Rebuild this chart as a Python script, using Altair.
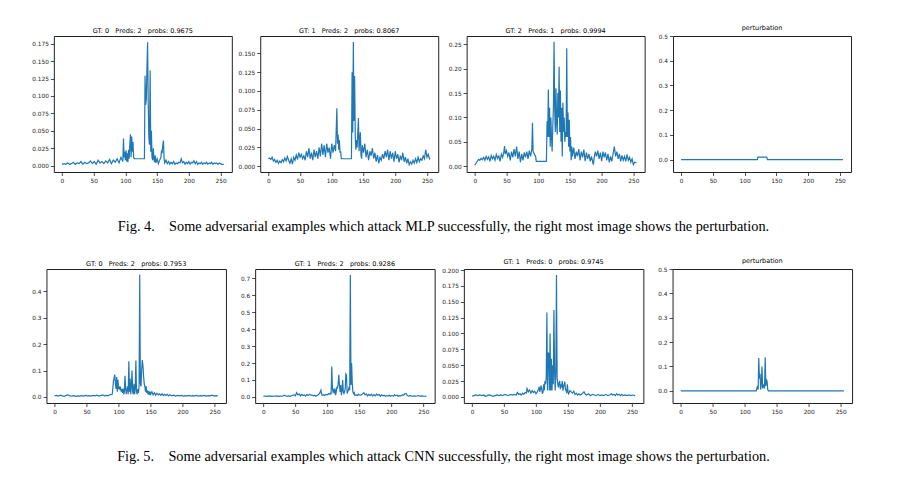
import altair as alt
import pandas as pd

# ---------------- data (x index, value) ----------------
mlp_gt0 = [(0,0.002),(3,0.003),(6,0.002),(9,0.004),(12,0.002),(15,0.003),(18,0.005),(21,0.002),(24,0.004),(27,0.003),
 (30,0.006),(33,0.002),(36,0.005),(39,0.003),(42,0.004),(45,0.007),(48,0.003),(51,0.006),(54,0.002),(57,0.008),
 (60,0.004),(63,0.006),(66,0.003),(69,0.007),(72,0.004),(75,0.009),(78,0.003),(81,0.008),(84,0.005),(87,0.01),
 (90,0.004),(93,0.012),(96,0.006),(97,0.039),(98,0.012),(99,0.02),(100,0.008),(101,0.022),(102,0.006),(103,0.018),
 (104,0.005),(105,0.023),(106,0.01),(107,0.03),(108,0.045),(109,0.012),(110,0.042),(111,0.02),(112,0.034),(113,0.012),
 (114,0.01),(130,0.01),(131,0.129),(132,0.087),(133,0.095),(134,0.14),(135,0.177),(136,0.09),(137,0.04),(138,0.03),
 (139,0.137),(140,0.02),(141,0.05),(142,0.012),(143,0.008),(144,0.025),(145,0.01),(146,0.005),(147,0.015),(148,0.004),
 (150,0.01),(152,0.003),(154,0.008),(156,0.012),(157,0.022),(158,0.018),(159,0.03),(160,0.036),(161,0.01),(162,0.004),
 (164,0.008),(166,0.003),(168,0.006),(170,0.002),(172,0.005),(174,0.003),(176,0.006),(178,0.002),(180,0.004),(182,0.003),
 (184,0.005),(186,0.004),(188,0.01),(190,0.004),(192,0.006),(194,0.002),(196,0.005),(198,0.003),(200,0.006),(202,0.002),
 (204,0.005),(206,0.004),(208,0.007),(210,0.003),(212,0.006),(214,0.002),(216,0.004),(218,0.003),(220,0.005),(222,0.002),
 (224,0.004),(226,0.003),(228,0.005),(230,0.002),(232,0.004),(234,0.003),(236,0.005),(238,0.002),(240,0.004),(242,0.003),
 (244,0.004),(246,0.002),(248,0.004),(250,0.003),(252,0.002),(255,0.002)]

mlp_gt1 = [(0,0.010),(2,0.011),(4,0.009),(6,0.012),(8,0.007),(10,0.009),(12,0.005),(14,0.008),(16,0.004),(18,0.007),
 (20,0.005),(22,0.009),(24,0.006),(26,0.011),(28,0.007),(30,0.013),(32,0.008),(34,0.004),(36,0.01),(38,0.003),
 (40,0.012),(42,0.008),(44,0.015),(46,0.009),(48,0.018),(50,0.012),(52,0.016),(54,0.01),(56,0.014),(58,0.008),
 (60,0.02),(62,0.012),(64,0.024),(66,0.01),(68,0.018),(70,0.008),(72,0.022),(74,0.012),(76,0.02),(78,0.01),
 (80,0.025),(82,0.013),(84,0.03),(86,0.015),(88,0.028),(90,0.012),(92,0.03),(94,0.018),(96,0.025),(98,0.01),
 (100,0.03),(102,0.018),(104,0.028),(106,0.02),(108,0.077),(109,0.03),(110,0.042),(111,0.022),(112,0.035),(113,0.018),
 (114,0.02),(115,0.01),(131,0.01),(132,0.125),(133,0.045),(134,0.165),(135,0.06),(136,0.12),(137,0.04),(138,0.022),
 (139,0.035),(140,0.025),(141,0.045),(142,0.064),(143,0.02),(144,0.035),(145,0.045),(146,0.015),(147,0.01),(148,0.028),
 (150,0.018),(152,0.03),(154,0.012),(156,0.022),(158,0.008),(160,0.02),(162,0.014),(164,0.024),(166,0.01),(168,0.018),
 (170,0.006),(172,0.015),(174,0.004),(176,0.012),(178,0.008),(180,0.016),(182,0.01),(184,0.02),(186,0.012),(188,0.022),
 (190,0.008),(192,0.02),(194,0.01),(196,0.018),(198,0.006),(200,0.02),(202,0.01),(204,0.016),(206,0.005),(208,0.014),
 (210,0.008),(212,0.018),(214,0.006),(216,0.012),(218,0.004),(220,0.01),(222,0.002),(224,0.006),(226,0.003),(228,0.008),
 (230,0.004),(232,0.01),(234,0.005),(236,0.012),(238,0.006),(240,0.01),(242,0.008),(244,0.014),(246,0.01),(248,0.022),
 (250,0.012),(252,0.016),(254,0.01),(255,0.011)]

mlp_gt2 = [(0,0.002),(2,0.006),(4,0.01),(6,0.014),(8,0.012),(10,0.016),(12,0.013),(14,0.018),(16,0.012),(18,0.02),
 (20,0.014),(22,0.019),(24,0.01),(26,0.022),(28,0.015),(30,0.02),(32,0.012),(34,0.024),(36,0.016),(38,0.021),
 (40,0.01),(42,0.025),(44,0.018),(46,0.03),(47,0.041),(48,0.025),(50,0.032),(52,0.02),(54,0.028),(56,0.012),
 (58,0.03),(60,0.018),(62,0.035),(64,0.02),(66,0.04),(68,0.015),(70,0.03),(72,0.008),(74,0.025),(76,0.012),
 (78,0.028),(80,0.018),(82,0.03),(84,0.015),(86,0.032),(88,0.02),(90,0.035),(91,0.089),(92,0.03),(94,0.025),
 (96,0.02),(97,0.01),(113,0.01),(114,0.092),(115,0.06),(116,0.157),(117,0.06),(118,0.12),(119,0.04),(120,0.1),
 (121,0.06),(122,0.03),(123,0.08),(124,0.12),(125,0.255),(126,0.12),(127,0.07),(128,0.16),(129,0.09),(130,0.065),
 (131,0.15),(132,0.1),(133,0.204),(134,0.07),(135,0.155),(136,0.05),(137,0.12),(138,0.02),(139,0.13),(140,0.07),
 (141,0.1),(142,0.05),(143,0.07),(144,0.06),(145,0.242),(146,0.06),(147,0.11),(148,0.04),(149,0.095),(150,0.03),
 (151,0.06),(152,0.012),(153,0.04),(154,0.02),(156,0.038),(158,0.015),(160,0.03),(162,0.02),(164,0.035),(166,0.012),
 (168,0.03),(170,0.018),(172,0.034),(174,0.01),(176,0.028),(178,0.015),(180,0.025),(182,0.01),(184,0.02),(186,0.008),
 (187,0.003),(188,0.015),(190,0.03),(192,0.02),(194,0.032),(196,0.015),(198,0.028),(200,0.01),(202,0.03),(204,0.018),
 (206,0.028),(208,0.012),(210,0.025),(212,0.008),(214,0.02),(216,0.01),(218,0.025),(220,0.04),(222,0.02),(224,0.03),
 (226,0.015),(228,0.025),(230,0.01),(232,0.022),(234,0.012),(236,0.02),(238,0.01),(240,0.024),(242,0.012),(244,0.018),
 (246,0.008),(248,0.015),(250,0.003),(252,0.008),(255,0.007)]

mlp_pert = [(0,0.0),(120,0.0),(121,0.01),(135,0.01),(136,0.0),(255,0.0)]

cnn_gt0 = [(0,0.004),(3,0.006),(6,0.003),(9,0.007),(12,0.004),(15,0.002),(18,0.006),(21,0.008),(24,0.004),(27,0.003),
 (30,0.005),(33,0.002),(36,0.004),(39,0.003),(42,0.005),(45,0.003),(48,0.006),(51,0.004),(54,0.005),(57,0.003),
 (60,0.006),(63,0.004),(66,0.007),(69,0.003),(72,0.005),(75,0.008),(78,0.004),(81,0.006),(84,0.005),(87,0.009),
 (90,0.01),(92,0.06),(94,0.085),(95,0.05),(96,0.03),(97,0.075),(98,0.02),(99,0.065),(100,0.03),(101,0.04),
 (102,0.03),(103,0.035),(104,0.02),(105,0.03),(106,0.015),(107,0.032),(108,0.01),(109,0.02),(110,0.08),(111,0.03),
 (112,0.01),(113,0.03),(114,0.04),(115,0.01),(116,0.135),(117,0.02),(118,0.07),(119,0.01),(120,0.04),(121,0.1),
 (122,0.02),(123,0.01),(124,0.05),(125,0.01),(126,0.03),(127,0.138),(128,0.02),(129,0.01),(130,0.03),(131,0.015),
 (132,0.04),(133,0.463),(134,0.05),(135,0.04),(136,0.1),(137,0.14),(138,0.12),(139,0.08),(140,0.05),(141,0.04),
 (142,0.02),(143,0.04),(144,0.015),(145,0.025),(146,0.01),(147,0.022),(148,0.008),(149,0.02),(150,0.01),(152,0.02),
 (154,0.008),(156,0.016),(158,0.006),(160,0.014),(162,0.008),(164,0.012),(166,0.006),(168,0.012),(170,0.005),(172,0.01),
 (174,0.006),(176,0.01),(178,0.004),(180,0.008),(183,0.004),(186,0.007),(189,0.003),(192,0.006),(195,0.004),(198,0.006),
 (201,0.003),(204,0.005),(207,0.004),(210,0.006),(213,0.003),(216,0.005),(219,0.004),(222,0.006),(225,0.003),(228,0.005),
 (231,0.004),(234,0.006),(237,0.003),(240,0.005),(243,0.004),(246,0.007),(249,0.003),(252,0.005),(255,0.004)]

cnn_gt1a = [(0,0.004),(3,0.005),(6,0.003),(9,0.006),(12,0.003),(15,0.005),(18,0.004),(21,0.006),(24,0.003),(27,0.005),
 (30,0.004),(33,0.01),(36,0.004),(39,0.006),(42,0.003),(45,0.008),(48,0.012),(50,0.006),(52,0.025),(54,0.012),
 (56,0.018),(58,0.006),(60,0.015),(62,0.008),(64,0.012),(66,0.005),(68,0.014),(70,0.008),(72,0.016),(74,0.01),
 (76,0.012),(78,0.006),(80,0.01),(82,0.004),(84,0.008),(86,0.012),(88,0.02),(90,0.04),(91,0.02),(92,0.01),
 (94,0.012),(96,0.008),(98,0.015),(100,0.012),(102,0.02),(104,0.015),(105,0.022),(106,0.02),(107,0.18),(108,0.05),
 (109,0.03),(110,0.04),(111,0.02),(112,0.05),(113,0.01),(114,0.03),(115,0.06),(116,0.05),(117,0.08),(118,0.13),
 (119,0.07),(120,0.03),(121,0.07),(122,0.01),(123,0.04),(124,0.1),(125,0.03),(126,0.02),(127,0.03),(128,0.05),
 (129,0.135),(130,0.13),(131,0.02),(132,0.03),(133,0.04),(134,0.06),(135,0.04),(136,0.72),(137,0.07),(138,0.2),
 (139,0.08),(140,0.03),(141,0.02),(142,0.025),(143,0.01),(145,0.012),(147,0.008),(149,0.015),(151,0.01),(153,0.012),
 (155,0.018),(157,0.025),(159,0.012),(161,0.018),(163,0.006),(165,0.015),(167,0.008),(169,0.016),(171,0.005),(173,0.014),
 (175,0.006),(177,0.016),(179,0.01),(181,0.014),(183,0.004),(185,0.012),(187,0.006),(189,0.01),(191,0.004),(193,0.008),
 (195,0.005),(197,0.01),(199,0.004),(201,0.008),(203,0.005),(205,0.012),(207,0.006),(209,0.01),(211,0.004),(213,0.008),
 (215,0.006),(217,0.012),(219,0.01),(221,0.018),(223,0.02),(225,0.008),(227,0.005),(230,0.007),(233,0.004),(236,0.006),
 (239,0.004),(242,0.008),(245,0.005),(248,0.006),(251,0.004),(255,0.005)]

cnn_gt1b = [(0,0.001),(3,0.002),(6,0.003),(9,0.002),(12,0.003),(15,0.002),(18,0.003),(21,0.001),(24,0.002),(27,0.003),
 (30,0.002),(33,0.001),(36,0.002),(39,0.003),(42,0.002),(45,0.003),(48,0.002),(51,0.004),(54,0.003),(57,0.002),
 (60,0.004),(63,0.003),(66,0.004),(69,0.003),(71,0.007),(73,0.004),(75,0.005),(77,0.003),(79,0.006),(81,0.004),
 (83,0.007),(85,0.006),(86,0.013),(88,0.008),(90,0.011),(92,0.006),(94,0.01),(96,0.007),(98,0.009),(100,0.005),
 (102,0.008),(104,0.012),(105,0.016),(106,0.008),(108,0.018),(109,0.012),(110,0.005),(111,0.008),(112,0.02),(113,0.01),
 (114,0.025),(115,0.02),(116,0.03),(117,0.133),(118,0.01),(119,0.07),(120,0.068),(121,0.01),(122,0.1),(123,0.01),
 (124,0.06),(125,0.01),(126,0.05),(127,0.02),(128,0.137),(129,0.043),(130,0.01),(131,0.04),(132,0.192),(133,0.03),
 (134,0.02),(135,0.015),(136,0.022),(137,0.025),(138,0.012),(139,0.02),(140,0.015),(141,0.025),(142,0.01),(143,0.015),
 (144,0.02),(145,0.024),(146,0.012),(147,0.01),(148,0.006),(149,0.02),(150,0.008),(151,0.005),(153,0.01),(155,0.008),
 (157,0.006),(159,0.009),(161,0.004),(163,0.006),(165,0.003),(167,0.005),(169,0.003),(171,0.004),(173,0.006),(175,0.008),
 (177,0.004),(179,0.003),(182,0.005),(185,0.002),(188,0.004),(191,0.003),(194,0.002),(197,0.004),(200,0.002),(203,0.003),
 (206,0.002),(209,0.004),(212,0.002),(215,0.003),(218,0.005),(220,0.003),(222,0.004),(224,0.002),(226,0.005),(228,0.003),
 (230,0.004),(232,0.002),(234,0.004),(236,0.002),(239,0.003),(242,0.002),(245,0.003),(248,0.002),(251,0.003),(255,0.002)]

cnn_pert = [(0,0.0),(118,0.0),(119,0.01),(120,0.02),(121,0.005),(122,0.135),(123,0.05),(124,0.07),(125,0.005),(126,0.03),
 (127,0.1),(128,0.01),(129,0.02),(130,0.025),(131,0.01),(132,0.138),(133,0.02),(134,0.045),(135,0.04),(136,0.005),
 (137,0.0),(255,0.0)]

titles_row1 = ["GT: 0   Preds: 2   probs: 0.9675", "GT: 1   Preds: 2   probs: 0.8067",
               "GT: 2   Preds: 1   probs: 0.9994", "perturbation"]
titles_row2 = ["GT: 0   Preds: 2   probs: 0.7953", "GT: 1   Preds: 2   probs: 0.9286",
               "GT: 1   Preds: 0   probs: 0.9745", "perturbation"]

x_ticks = [0, 50, 100, 150, 200, 250]
ticks_a = [0, 0.025, 0.05, 0.075, 0.1, 0.125, 0.15, 0.175]
ticks_b = [0, 0.025, 0.05, 0.075, 0.1, 0.125, 0.15]
ticks_c = [0, 0.05, 0.1, 0.15, 0.2, 0.25]
ticks_p = [0, 0.1, 0.2, 0.3, 0.4, 0.5]
ticks_e = [0, 0.1, 0.2, 0.3, 0.4]
ticks_f = [0, 0.1, 0.2, 0.3, 0.4, 0.5, 0.6, 0.7]
ticks_g = [0, 0.025, 0.05, 0.075, 0.1, 0.125, 0.15, 0.175, 0.2]

caption4 = "Fig. 4.\u2003Some adversarial examples which attack MLP successfully, the right most image shows the perturbation."
caption5 = "Fig. 5.\u2003Some adversarial examples which attack CNN successfully, the right most image shows the perturbation."

# ---------------- chart ----------------
BLUE = "#1f77b4"


def panel(pairs, title, ydom, yticks, fmt, w, h, ext=None):
    df = pd.DataFrame(pairs, columns=["x", "y"])
    t = alt.TitleParams(title.replace(" ", "\u00a0"), font="DejaVu Sans", fontSize=6.5,
                        fontWeight="normal", color="black", offset=2)
    yaxis_kw = dict(values=yticks, format=fmt, title=None)
    if ext is not None:
        yaxis_kw.update(minExtent=ext, maxExtent=ext)
    return alt.Chart(df, title=t).mark_line(color=BLUE, strokeWidth=1.2, clip=True).encode(
        x=alt.X("x:Q", scale=alt.Scale(domain=[-12.75, 267.75], nice=False, zero=False),
                axis=alt.Axis(values=x_ticks, format="d", title=None)),
        y=alt.Y("y:Q", scale=alt.Scale(domain=ydom, nice=False, zero=False),
                axis=alt.Axis(**yaxis_kw)),
    ).properties(width=w, height=h)


def spacer(w, h):
    # invisible trailing cell, only used to balance the two centred rows
    return alt.Chart(pd.DataFrame({"x": [0]})).mark_point(opacity=0).encode(
        x=alt.X("x:Q", axis=None), y=alt.Y("x:Q", axis=None)
    ).properties(width=w, height=h, view=alt.ViewBackground(stroke="transparent"))


W1, H1 = 178, 136
W2, H2 = 179.5, 134

row1 = alt.hconcat(
    panel(mlp_gt0, titles_row1[0], [-0.009, 0.186], ticks_a, ".3f", W1, H1, 52.5),
    panel(mlp_gt1, titles_row1[1], [-0.0076, 0.173], ticks_b, ".3f", W1, H1),
    panel(mlp_gt2, titles_row1[2], [-0.012, 0.267], ticks_c, ".2f", W1, H1),
    panel(mlp_pert, titles_row1[3], [-0.05, 0.5], ticks_p, ".1f", W1, H1),
    spacer(1, H1),
    spacing=28.4, bounds="flush",
    title=alt.TitleParams(caption4, orient="bottom", anchor="middle", font="Liberation Serif",
                          fontSize=14.3, fontWeight="normal", color="black", offset=36, dx=1.5),
)

row2 = alt.hconcat(
    panel(cnn_gt0, titles_row2[0], [-0.023, 0.485], ticks_e, ".1f", W2, H2, 45),
    panel(cnn_gt1a, titles_row2[1], [-0.036, 0.755], ticks_f, ".1f", W2, H2),
    panel(cnn_gt1b, titles_row2[2], [-0.0096, 0.2016], ticks_g, ".3f", W2, H2),
    panel(cnn_pert, titles_row2[3], [-0.05, 0.5], ticks_p, ".1f", W2, H2),
    spacer(8.8, H2),
    spacing=28.7, bounds="flush",
    title=alt.TitleParams(caption5, orient="bottom", anchor="middle", font="Liberation Serif",
                          fontSize=14.3, fontWeight="normal", color="black", offset=35, dx=-2.3),
)

chart = alt.vconcat(row1, row2, spacing=22, center=True).properties(
    padding={"left": 0, "top": 24, "right": 0, "bottom": 0},
    background="white",
).configure_view(
    stroke="#222", strokeWidth=1
).configure_axis(
    domain=False, grid=False, labelFont="DejaVu Sans", labelFontSize=5.8, labelColor="#222",
    tickColor="#222", tickSize=3.5, tickWidth=0.8, labelPadding=2,
)

chart.save("out.html", embed_options={"renderer": "svg", "actions": False})
